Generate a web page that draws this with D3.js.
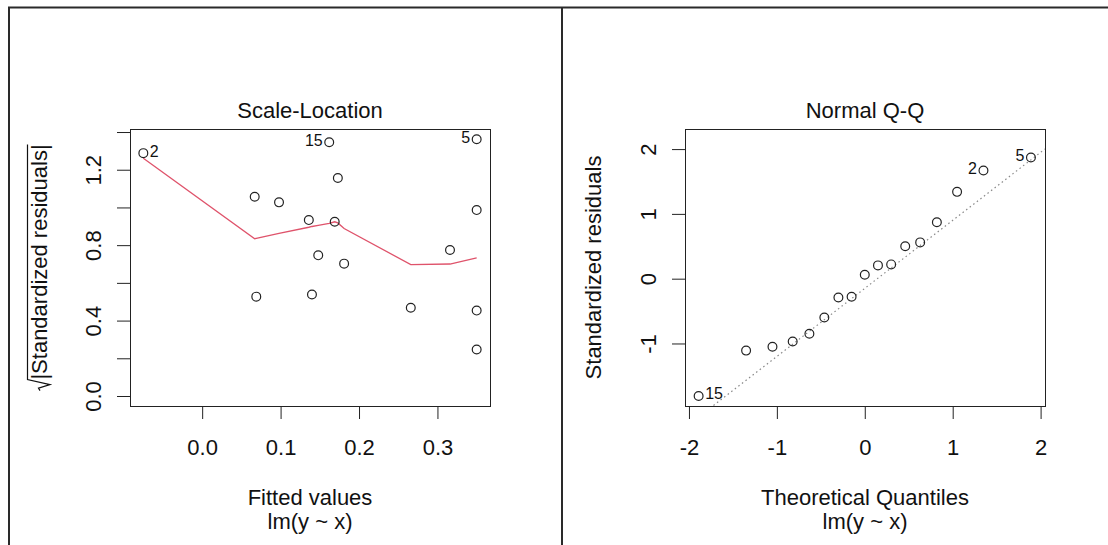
<!DOCTYPE html>
<html>
<head>
<meta charset="utf-8">
<script src="https://cdn.jsdelivr.net/npm/d3@7"></script>
<style>
  html, body { margin: 0; padding: 0; background: #fff; }
  text { font-family: "Liberation Sans", Arial, Helvetica, sans-serif; fill: #111; }
</style>
</head>
<body>
<div id="chart"></div>
<script>
// Scale-Location panel
var slFitted   = [-0.075, 0.162, 0.350, 0.067, 0.098, 0.173, 0.350, 0.136, 0.169, 0.148, 0.181, 0.316, 0.069, 0.140, 0.266, 0.350, 0.350];
var slSqrtRes  = [1.288, 1.346, 1.362, 1.057, 1.027, 1.156, 0.986, 0.933, 0.924, 0.746, 0.702, 0.774, 0.527, 0.538, 0.468, 0.453, 0.247];
var slIds      = ["2", "15", "5", "", "", "", "", "", "", "", "", "", "", "", "", "", ""];
var smoothX    = [-0.075, 0.067, 0.069, 0.098, 0.136, 0.140, 0.148, 0.162, 0.169, 0.173, 0.181, 0.266, 0.316, 0.350];
var smoothY    = [1.261, 0.834, 0.836, 0.862, 0.895, 0.899, 0.905, 0.915, 0.924, 0.918, 0.888, 0.697, 0.700, 0.732];
var slXTicks   = [0.0, 0.1, 0.2, 0.3];
var slYTicks   = [0.0, 0.2, 0.4, 0.6, 0.8, 1.0, 1.2, 1.4];
var slYLabels  = ["0.0", "", "0.4", "", "0.8", "", "1.2", ""];

// Normal Q-Q panel
var qqTheo     = [-1.89, -1.35, -1.05, -0.82, -0.63, -0.46, -0.30, -0.15, 0.00, 0.15, 0.30, 0.46, 0.63, 0.82, 1.05, 1.35, 1.89];
var qqRes      = [-1.81, -1.11, -1.05, -0.97, -0.85, -0.60, -0.29, -0.28, 0.06, 0.205, 0.22, 0.50, 0.56, 0.87, 1.34, 1.67, 1.87];
var qqIds      = ["15", "", "", "", "", "", "", "", "", "", "", "", "", "", "", "2", "5"];
var qqLine     = { intercept: -0.15, slope: 1.05 };
var qqXTicks   = [-2, -1, 0, 1, 2];
var qqYTicks   = [-1, 0, 1, 2];

var W = 1108, H = 545;
var fontSize = 22;
var red = "#DF536B";
var ink = "#222";

var svg = d3.select("#chart").append("svg")
    .attr("width", W)
    .attr("height", H);

// page frame (top, left, divider)
svg.append("path")
    .attr("d", "M9,545 V7.5 H1108 M562,7.5 V545")
    .attr("fill", "none")
    .attr("stroke", "#2a2a2a")
    .attr("stroke-width", 2);

// R prints a plain hyphen for negatives
var plain = function(d) { return String(d); };

function panel(opt) {
    var x = d3.scaleLinear().domain(opt.xDomain).range([opt.left, opt.right]);
    var y = d3.scaleLinear().domain(opt.yDomain).range([opt.bottom, opt.top]);
    var g = svg.append("g");

    // x axis
    var xa = g.append("g")
        .attr("transform", "translate(0," + opt.bottom + ")")
        .call(d3.axisBottom(x).tickValues(opt.xTicks).tickSize(13).tickSizeOuter(0)
            .tickPadding(20).tickFormat(opt.xFormat));
    xa.select(".domain").remove();
    xa.selectAll(".tick line").attr("stroke", ink);
    xa.selectAll(".tick text")
        .attr("font-size", fontSize)
        .attr("font-family", null)
        .attr("fill", "#111");

    // y axis, labels turned like R's las = 0
    var ya = g.append("g")
        .attr("transform", "translate(" + opt.left + ",0)")
        .call(d3.axisLeft(y).tickValues(opt.yTicks).tickSize(13).tickSizeOuter(0)
            .tickFormat(opt.yFormat));
    ya.select(".domain").remove();
    ya.selectAll(".tick line").attr("stroke", ink);
    ya.selectAll(".tick text")
        .attr("x", null)
        .attr("dy", null)
        .attr("font-size", fontSize)
        .attr("font-family", null)
        .attr("fill", "#111")
        .attr("text-anchor", "middle")
        .attr("transform", "translate(-29.5,0) rotate(-90)");

    // box
    g.append("rect")
        .attr("x", opt.left + 0.5)
        .attr("y", opt.top + 0.5)
        .attr("width", opt.right - opt.left)
        .attr("height", opt.bottom - opt.top)
        .attr("fill", "none")
        .attr("stroke", ink)
        .attr("stroke-width", 1);

    // titles
    var cx = (opt.left + opt.right) / 2;
    g.append("text").attr("x", cx).attr("y", 117.5)
        .attr("text-anchor", "middle").attr("font-size", fontSize).text(opt.title);
    g.append("text").attr("x", cx).attr("y", 505)
        .attr("text-anchor", "middle").attr("font-size", fontSize).text(opt.xLabel);
    g.append("text").attr("x", cx).attr("y", 529)
        .attr("text-anchor", "middle").attr("font-size", fontSize).text("lm(y ~ x)");

    return { g: g, x: x, y: y };
}

function drawPoints(p, xs, ys, ids) {
    var pts = xs.map(function(d, i) { return { x: d, y: ys[i], id: ids[i] }; });
    p.g.selectAll("circle.pt")
        .data(pts)
        .enter()
        .append("circle")
        .attr("class", "pt")
        .attr("cx", function(d) { return p.x(d.x); })
        .attr("cy", function(d) { return p.y(d.y); })
        .attr("r", 4.4)
        .attr("fill", "none")
        .attr("stroke", ink)
        .attr("stroke-width", 1.2);

    // id labels: left of the point on the right half, right of it otherwise
    var mid = (d3.min(xs) + d3.max(xs)) / 2;
    p.g.selectAll("text.id")
        .data(pts.filter(function(d) { return d.id !== ""; }))
        .enter()
        .append("text")
        .attr("class", "id")
        .attr("font-size", 16)
        .attr("x", function(d) { return p.x(d.x) + (d.x > mid ? -6.5 : 6.5); })
        .attr("y", function(d) { return p.y(d.y) + 3.5; })
        .attr("text-anchor", function(d) { return d.x > mid ? "end" : "start"; })
        .text(function(d) { return d.id; });
}

// ---- left: Scale-Location
var sl = panel({
    left: 130, right: 490, top: 129, bottom: 406,
    xDomain: [-0.092, 0.367], yDomain: [-0.053, 1.416],
    xTicks: slXTicks, yTicks: slYTicks,
    xFormat: d3.format(".1f"),
    yFormat: function(d, i) { return slYLabels[i]; },
    title: "Scale-Location", xLabel: "Fitted values"
});

sl.g.append("path")
    .datum(smoothX.map(function(d, i) { return [d, smoothY[i]]; }))
    .attr("fill", "none")
    .attr("stroke", red)
    .attr("stroke-width", 1.3)
    .attr("d", d3.line().x(function(d) { return sl.x(d[0]); }).y(function(d) { return sl.y(d[1]); }));

drawPoints(sl, slFitted, slSqrtRes, slIds);

// y label with square-root sign
var yl = sl.g.append("g").attr("transform", "translate(47," + (129 + 406) / 2 + ") rotate(-90)");
var ylText = yl.append("text").attr("font-size", fontSize).text("|Standardized residuals|");
var tw = ylText.node().getComputedTextLength();
var rw = 11;
var x0 = -(tw + rw) / 2;
ylText.attr("x", x0 + rw);
yl.append("path")
    .attr("d", "M" + x0 + ",-7 L" + (x0 + 2.5) + ",-8.5 L" + (x0 + 6) + ",3 L" + (x0 + rw) + ",-19.5 H" + (x0 + rw + tw))
    .attr("fill", "none")
    .attr("stroke", "#111")
    .attr("stroke-width", 1.2);

// ---- right: Normal Q-Q
var qq = panel({
    left: 685, right: 1045, top: 129, bottom: 406,
    xDomain: [-2.045, 2.05], yDomain: [-1.965, 2.31],
    xTicks: qqXTicks, yTicks: qqYTicks,
    xFormat: plain,
    yFormat: plain,
    title: "Normal Q-Q", xLabel: "Theoretical Quantiles"
});

qq.g.append("defs").append("clipPath").attr("id", "qqclip")
    .append("rect").attr("x", 685).attr("y", 129).attr("width", 360).attr("height", 277);

var qxd = qq.x.domain();
qq.g.append("line")
    .attr("clip-path", "url(#qqclip)")
    .attr("x1", qq.x(qxd[0])).attr("y1", qq.y(qqLine.intercept + qqLine.slope * qxd[0]))
    .attr("x2", qq.x(qxd[1])).attr("y2", qq.y(qqLine.intercept + qqLine.slope * qxd[1]))
    .attr("stroke", "#8a8a8a")
    .attr("stroke-width", 1.2)
    .attr("stroke-dasharray", "1.5,3");

drawPoints(qq, qqTheo, qqRes, qqIds);

qq.g.append("text")
    .attr("transform", "translate(601," + (129 + 406) / 2 + ") rotate(-90)")
    .attr("text-anchor", "middle")
    .attr("font-size", fontSize)
    .text("Standardized residuals");
</script>
</body>
</html>
